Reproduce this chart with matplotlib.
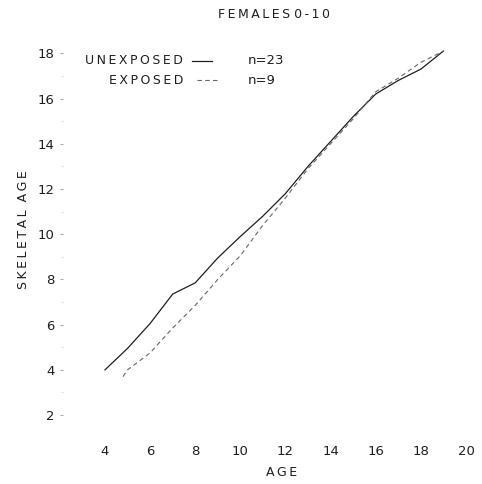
import matplotlib
matplotlib.use('Agg')
import matplotlib.pyplot as plt
from matplotlib.lines import Line2D

# Skeletal age vs age, females 0-10
unexp_age = [4, 5, 6, 7, 8, 9, 10, 11, 12, 13, 14, 15, 16, 17, 18, 19]
unexp_skel = [4.0, 4.95, 6.05, 7.35, 7.85, 8.95, 9.9, 10.8, 11.8, 13.0, 14.1, 15.2, 16.2, 16.8, 17.3, 18.1]

exp_age = [4.8, 5, 6, 7, 8, 9, 10, 11, 12, 13, 14, 15, 16, 17, 18, 19]
exp_skel = [3.7, 4.0, 4.75, 5.85, 6.85, 8.0, 9.05, 10.4, 11.6, 12.9, 14.0, 15.1, 16.3, 16.9, 17.6, 18.1]

x_ticks = [4, 6, 8, 10, 12, 14, 16, 18, 20]
y_ticks = [2, 4, 6, 8, 10, 12, 14, 16, 18]
y_minor = [3, 5, 7, 9, 11, 13, 15, 17]

ink = '#1e1e1e'
ts = '\u2009'  # thin space, for the wide lettering of the original


def spaced(s):
    return ts.join(s)


fig = plt.figure(figsize=(4.82, 4.84), dpi=100)
ax = fig.add_axes([63 / 482, 54 / 484, 412 / 482, 395 / 484])

ax.plot(unexp_age, unexp_skel, color=ink, lw=0.9)
ax.plot(exp_age, exp_skel, color='#666666', lw=0.8, dashes=(4, 3))

ax.set_xlim(2.14, 20.4)
ax.set_ylim(1.34, 18.81)
ax.set_xticks(x_ticks)
ax.set_yticks(y_ticks)
ax.set_yticks(y_minor, minor=True)
for s in ax.spines.values():
    s.set_visible(False)
ax.tick_params(axis='x', length=0, pad=10.5, labelsize=9.5, labelcolor=ink)
ax.tick_params(axis='y', length=2, width=0.6, color='#999999', pad=4, labelsize=9.5, labelcolor=ink)
ax.tick_params(axis='y', which='minor', length=1.5, width=0.5, color='#cccccc')

fig.text(274 / 482, 1 - 15 / 484, spaced('FEMALES') + ' ' + spaced('0-10'),
         ha='center', va='center', fontsize=9, color=ink)
fig.text(282 / 482, 1 - 473 / 484, spaced('AGE'), ha='center', va='center', fontsize=9, color=ink)
fig.text(24 / 482, 1 - 230 / 484, spaced('SKELETAL') + '  ' + spaced('AGE'),
         ha='center', va='center', rotation=90, fontsize=9, color=ink)

# hand-drawn style legend
fig.text(183 / 482, 1 - 61 / 484, spaced('UNEXPOSED'), ha='right', va='center', fontsize=9, color=ink)
fig.text(183 / 482, 1 - 80 / 484, spaced('EXPOSED'), ha='right', va='center', fontsize=9, color=ink)
fig.text(248 / 482, 1 - 61 / 484, 'n=23', ha='left', va='center', fontsize=9.5, color=ink)
fig.text(248 / 482, 1 - 80 / 484, 'n=9', ha='left', va='center', fontsize=9.5, color=ink)
fig.add_artist(Line2D([192 / 482, 212 / 482], [1 - 61 / 484] * 2, color=ink, lw=0.9))
fig.add_artist(Line2D([197 / 482, 219 / 482], [1 - 80 / 484] * 2, color='#666666', lw=0.8, dashes=(4, 3)))

fig.savefig('out.png', dpi=100)
